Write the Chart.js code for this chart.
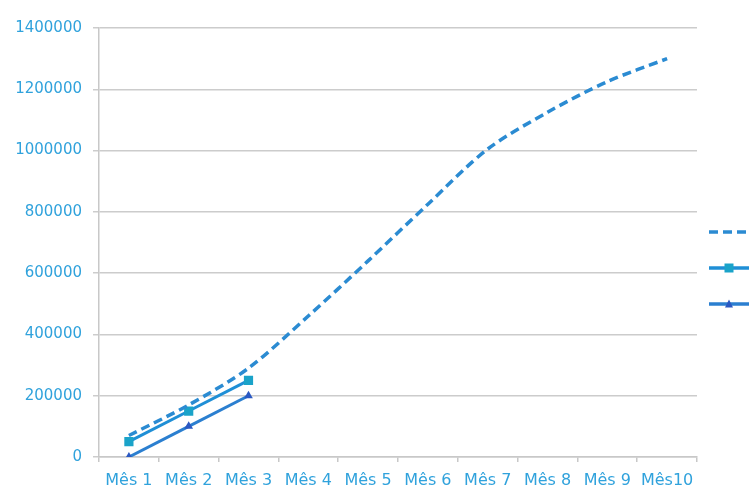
<!DOCTYPE html>
<html>
<head>
<meta charset="utf-8">
<script src="https://cdn.jsdelivr.net/npm/chart.js@4"></script>
<style>
  html, body { margin: 0; padding: 0; background: #fff; overflow: hidden; }
  #wrap { width: 830px; height: 489px; }
</style>
</head>
<body>
<div id="wrap"><canvas id="c" width="830" height="489"></canvas></div>
<script>
// Categories and series values
const meses = ['Mês 1', 'Mês 2', 'Mês 3', 'Mês 4', 'Mês 5', 'Mês 6', 'Mês 7', 'Mês 8', 'Mês 9', 'Mês10'];
const projecao = [70000, 170000, 290000, 460000, 640000, 825000, 1005000, 1125000, 1225000, 1300000];
const receita = [50000, 150000, 250000];
const custos = [0, 100000, 200000];
const yMin = 0;
const yMax = 1400000;
const yStep = 200000;

const labelBlue = '#30a2dc';
const lineBlue = '#2b8bd2';
const squareLine = '#1f8fd6';
const squareFill = '#1aa3c9';
const triLine = '#2b7fd0';
const triFill = '#2a58c2';

// Small legend glyphs: a line sample with the series marker in the middle
function legendGlyph(color, dash, marker, markerColor) {
  const cv = document.createElement('canvas');
  cv.width = 40; cv.height = 12;
  const g = cv.getContext('2d');
  g.strokeStyle = color;
  g.lineWidth = 3.5;
  g.setLineDash(dash);
  g.beginPath(); g.moveTo(0, 6); g.lineTo(40, 6); g.stroke();
  g.setLineDash([]);
  g.fillStyle = markerColor;
  if (marker === 'rect') {
    g.fillRect(15.5, 1.5, 9, 9);
  } else if (marker === 'triangle') {
    g.beginPath(); g.moveTo(20, 1.5); g.lineTo(24, 9.5); g.lineTo(16, 9.5); g.closePath(); g.fill();
  }
  return cv;
}

const glyphs = [
  legendGlyph(lineBlue, [9, 5], null, null),
  legendGlyph(squareLine, [], 'rect', squareFill),
  legendGlyph(triLine, [], 'triangle', triFill)
];

new Chart(document.getElementById('c'), {
  type: 'line',
  data: {
    labels: meses,
    datasets: [
      {
        label: 'Projeção',
        data: projecao,
        borderColor: lineBlue,
        borderWidth: 3.5,
        borderDash: [9, 5],
        tension: 0.3,
        pointRadius: 0,
        fill: false
      },
      {
        label: 'Receita',
        data: receita,
        borderColor: squareLine,
        borderWidth: 3,
        tension: 0,
        pointStyle: 'rect',
        pointRadius: 6.5,
        pointBorderWidth: 0,
        pointBackgroundColor: squareFill,
        pointBorderColor: squareFill,
        fill: false
      },
      {
        label: 'Custos',
        data: custos,
        borderColor: triLine,
        borderWidth: 3,
        tension: 0,
        pointStyle: 'triangle',
        pointRadius: 5,
        pointBorderWidth: 0,
        pointBackgroundColor: triFill,
        pointBorderColor: triFill,
        fill: false
      }
    ]
  },
  options: {
    responsive: false,
    animation: false,
    layout: { padding: { top: 28, right: 0, bottom: 0, left: 0 } },
    plugins: {
      tooltip: { enabled: false },
      legend: {
        position: 'right',
        maxWidth: 133,
        title: { display: true, text: ' ', font: { size: 10 }, padding: { top: 7, bottom: 0 } },
        labels: {
          usePointStyle: true,
          pointStyleWidth: 40,
          padding: 12,
          color: labelBlue,
          font: { family: 'DejaVu Sans', size: 24 },
          generateLabels(chart) {
            return chart.data.datasets.map((ds, i) => ({
              text: ds.label,
              pointStyle: glyphs[i],
              fillStyle: ds.borderColor,
              strokeStyle: ds.borderColor,
              lineWidth: 0,
              hidden: false,
              datasetIndex: i
            }));
          }
        }
      }
    },
    scales: {
      x: {
        type: 'category',
        offset: true,
        afterFit(scale) { scale.height = 32; },
        grid: {
          offset: true,
          drawOnChartArea: false,
          drawTicks: true,
          tickLength: 5,
          color: '#c8c8c8',
          lineWidth: 1.5
        },
        border: { color: '#c8c8c8', width: 1.5 },
        ticks: {
          color: labelBlue,
          font: { family: 'DejaVu Sans', size: 16 },
          padding: 9,
          maxRotation: 0,
          autoSkip: false
        }
      },
      y: {
        min: yMin,
        max: yMax,
        afterFit(scale) { scale.width = 99; },
        grid: {
          color: '#cccccc',
          lineWidth: 1.5,
          tickLength: 6
        },
        border: { color: '#c8c8c8', width: 1.5 },
        ticks: {
          stepSize: yStep,
          color: labelBlue,
          font: { family: 'DejaVu Sans', size: 15 },
          padding: 11,
          callback: v => String(v)
        }
      }
    }
  }
});
</script>
</body>
</html>
